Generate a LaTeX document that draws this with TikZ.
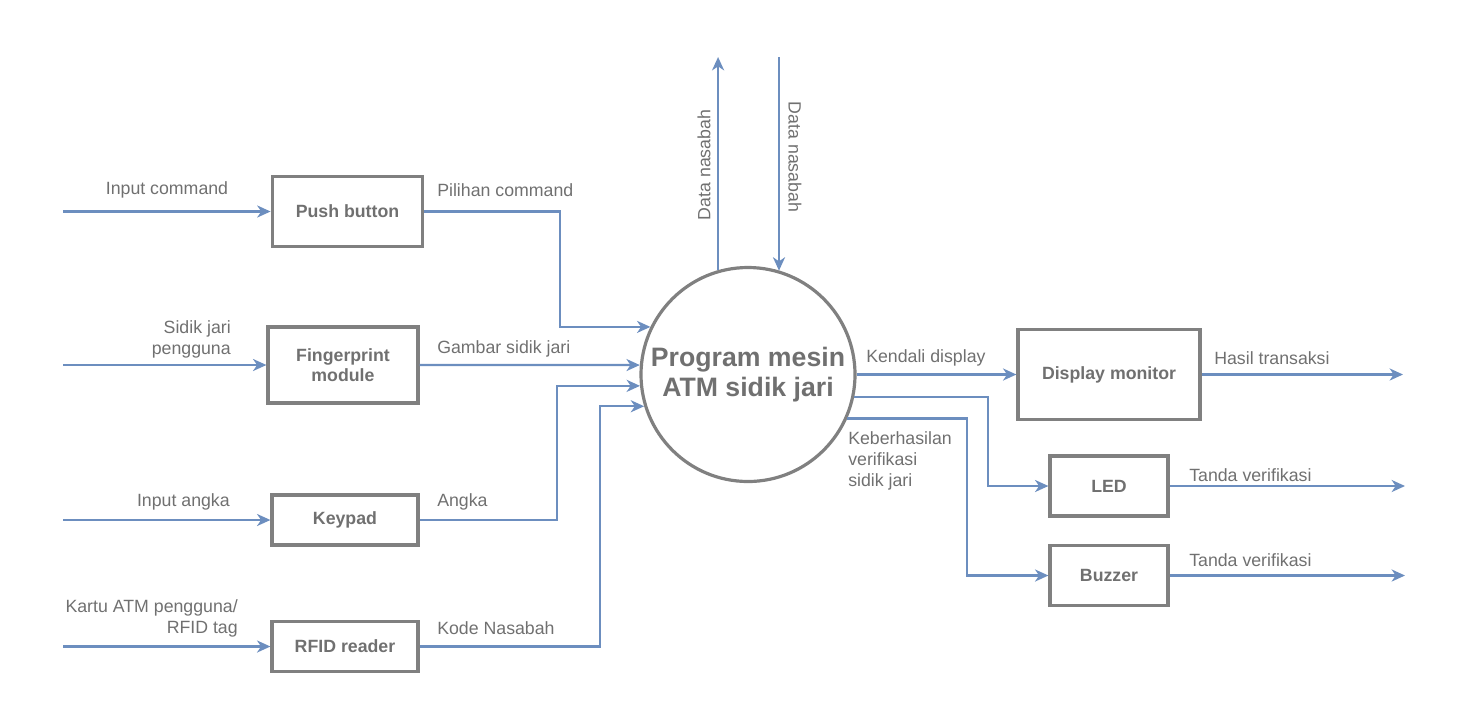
\documentclass[tikz,border=0pt]{standalone}
\usepackage{fontspec}
\setmainfont{Liberation Sans}
\usepackage{xcolor}
\usetikzlibrary{arrows.meta,calc,positioning}
\definecolor{flowblue}{HTML}{6C8EBF}
\definecolor{boxgray}{HTML}{808080}
\definecolor{txtgray}{HTML}{707070}

\begin{document}
\begin{tikzpicture}[
      x=0.75pt, y=-0.75pt,
      block/.style={draw=boxgray, line width=2.4pt, inner sep=0pt, align=center, text=txtgray, font=\fontsize{13.3}{15.5}\selectfont\bfseries},
      proc/.style={circle, draw=boxgray, line width=2.4pt, inner sep=0pt, minimum size=160.5pt, align=center, text=txtgray, font=\fontsize{20}{22}\selectfont\bfseries},
      lbl/.style={inner sep=0pt, text=txtgray, font=\fontsize{13.3}{15.75}\selectfont},
      flow/.style={draw=flowblue, line width=1.8pt, -{Stealth[length=10pt, width=9pt, inset=3pt]}}
  ]
    \useasboundingbox (0,0) rectangle (1462,726);

    % blocks
    \node[block, minimum width=113pt, minimum height=53pt] (push) at (347.5,211.5) {Push button};
    \node[block, minimum width=112.5pt, minimum height=57pt] (finger) at (343,365) {Fingerprint\\module};
    \node[block, minimum width=109.5pt, minimum height=37.5pt] (keypad) at (345,520) {Keypad};
    \node[block, minimum width=109.5pt, minimum height=38pt] (rfid) at (345,646.5) {RFID reader};
    \node[proc] (prog) at (748,374.5) {Program mesin\\ATM sidik jari};
    \node[block, minimum width=136.5pt, minimum height=67.5pt] (disp) at (1109,374.5) {Display monitor};
    \node[block, minimum width=88.5pt, minimum height=45pt] (led) at (1109,486) {LED};
    \node[block, minimum width=88.5pt, minimum height=45pt] (buzz) at (1109,575.5) {Buzzer};

    % free ends and bends
    \coordinate (in1) at (63,211.5);
    \coordinate (in2) at (63,365);
    \coordinate (in3) at (63,520);
    \coordinate (in4) at (63,646.5);
    \coordinate (j1) at (560,300);
    \coordinate (j3) at (557,450);
    \coordinate (j4) at (600,500);
    \coordinate (up) at (718,57);
    \coordinate (down) at (779,57);
    \coordinate (j5) at (988,450);
    \coordinate (j6) at (967,500);
    \coordinate (out1) at (1403,374.5);
    \coordinate (out2) at (1405,486);
    \coordinate (out3) at (1405,575.5);

    % inputs
    \draw[flow] (in1) -- (push.west);
    \draw[flow] (in2) -- (finger.west);
    \draw[flow] (in3) -- (keypad.west);
    \draw[flow] (in4) -- (rfid.west);
    \draw[flow] (push.east) -| (j1 |- prog.154) -- (prog.154);
    \draw[flow] (finger.east) -- (prog.175);
    \draw[flow] (keypad.east) -| (j3 |- prog.186) -- (prog.186);
    \draw[flow] (rfid.east) -| (j4 |- prog.197) -- (prog.197);

    % data nasabah
    \draw[flow] (prog.106) -- (up -| prog.106);
    \draw[flow] (down) -- (down |- prog.73);

    % outputs
    \draw[flow] (prog.east) -- (disp.west);
    \draw[flow] (prog.-12) -| (j5 |- led.west) -- (led.west);
    \draw[flow] (prog.-24) -| (j6 |- buzz.west) -- (buzz.west);
    \draw[flow] (disp.east) -- (out1);
    \draw[flow] (led.east) -- (out2);
    \draw[flow] (buzz.east) -- (out3);

    % labels
    \node[lbl] (l1) at (167,190) {Input command};
    \node[lbl, anchor=east, align=right] (l2) at (231,339) {Sidik jari\\pengguna};
    \node[lbl, anchor=east] (l3) at (230,502) {Input angka};
    \node[lbl, anchor=east, align=right] (l4) at (238,618) {Kartu ATM pengguna/\\RFID tag};
    \node[lbl, anchor=west] (l5) at (437,190) {Pilihan command};
    \node[lbl, anchor=west] (l6) at (437,349) {Gambar sidik jari};
    \node[lbl, anchor=west] (l7) at (437,502) {Angka};
    \node[lbl, anchor=west] (l8) at (437,628) {Kode Nasabah};
    \node[lbl, rotate=90] (l9) at (704,165) {Data nasabah};
    \node[lbl, rotate=-90] (l10) at (795,157) {Data nasabah};
    \node[lbl, anchor=west] (l11) at (866,358) {Kendali display};
    \node[lbl, anchor=north west, align=left] (l12) at (848,431) {Keberhasilan\\verifikasi\\sidik jari};
    \node[lbl, anchor=west] (l13) at (1214,358) {Hasil transaksi};
    \node[lbl, anchor=west] (l14) at (1189,475) {Tanda verifikasi};
    \node[lbl, anchor=west] (l15) at (1189,560) {Tanda verifikasi};
  \end{tikzpicture}
\end{document}
